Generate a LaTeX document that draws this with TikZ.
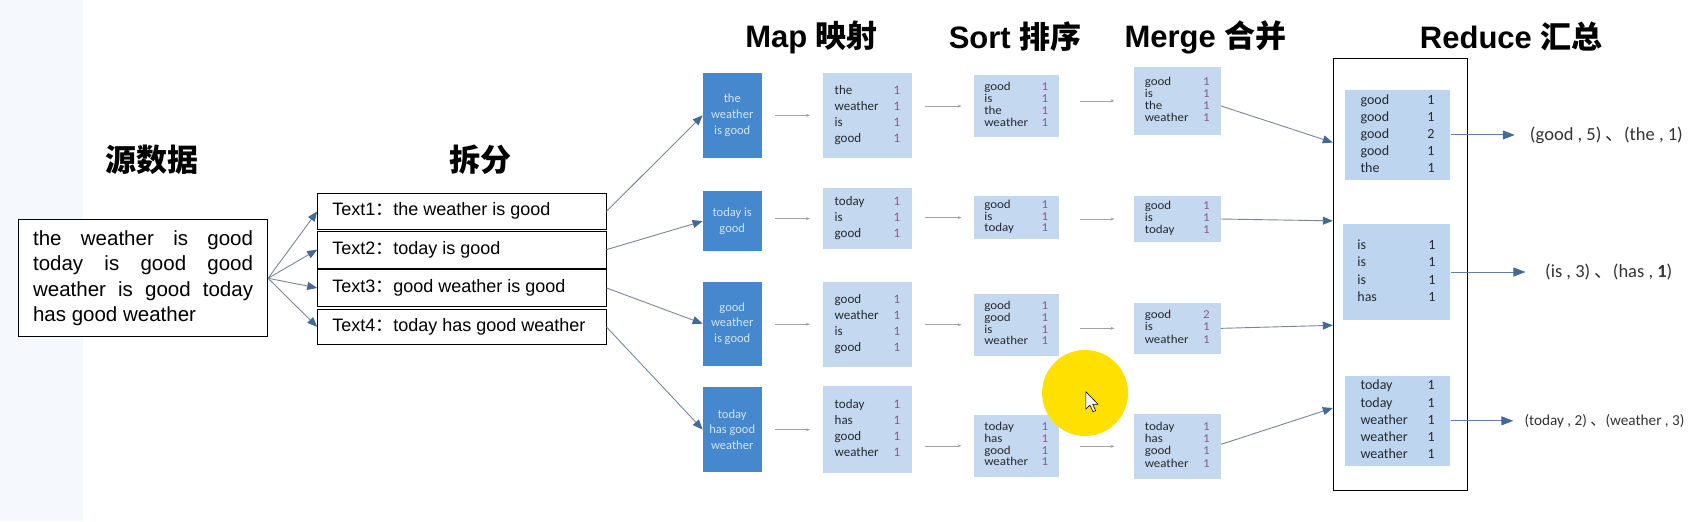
\documentclass[tikz,border=0pt]{standalone}
\usepackage{fontspec}
\usepackage{graphicx}
\setmainfont{Liberation Sans}
\newfontfamily\calib{Carlito}
\newfontfamily\cjk{Noto Sans CJK SC}
\usetikzlibrary{arrows.meta}

\definecolor{darkbox}{HTML}{4588CD}
\definecolor{lightbox}{HTML}{C4D9F0}
\definecolor{redbox}{HTML}{BDD5EF}
\definecolor{darktext}{HTML}{D3E3F3}
\definecolor{numcol}{HTML}{8A5A8E}
\definecolor{wordcol}{HTML}{262A30}
\definecolor{headblue}{HTML}{43689A}
\definecolor{linegray}{HTML}{7A8698}
\definecolor{resline}{HTML}{5F7FA5}
\definecolor{smallgray}{HTML}{A3A3A3}
\definecolor{leftband}{HTML}{F5F9FD}
\definecolor{cursoryellow}{HTML}{FFE000}
\definecolor{restext}{HTML}{333333}

% box by corners (shown units): name, x1, y1, x2, y2, style, content
\newcommand\bx[7]{\node[#6, minimum width={(#4-#2)*1.088pt}, minimum height={(#5-#3)*1.088pt}] (#1) at ({(#2+#4)/2},{(#3+#5)/2}) {#7};}
% word/count table: font size, pitch, column offset, rows
\newcommand\wc[4]{{\calib\fontsize{#1}{#2}\selectfont\begin{tabular}{@{}p{#3}@{}l@{}}#4\end{tabular}}}
% horizontally widened variant
\newcommand\wcs[4]{\scalebox{1.08}[1]{\wc{#1}{#2}{#3}{#4}}}
\newcommand\rowx[2]{#1 & \textcolor{numcol}{#2}\\}
\newcommand\rowk[2]{#1 & #2\\}

\tikzset{
  titlenode/.style={inner sep=0pt, font=\bfseries\fontsize{31}{31}\selectfont},
  plainbox/.style={draw=black, line width=0.9pt, fill=white, inner sep=0pt},
  textbox/.style={plainbox, font=\fontsize{18}{20}\selectfont},
  darkb/.style={fill=darkbox, inner sep=0pt, text=darktext, align=center, font=\calib\fontsize{12.5}{15.7}\selectfont},
  lightb/.style={fill=lightbox, inner sep=0pt, text=wordcol},
  redb/.style={fill=redbox, inner sep=0pt, text=wordcol},
  bigarrow/.style={draw=linegray, line width=0.9pt, -{Triangle[length=10pt,width=8pt,color=headblue]}},
  resarrow/.style={draw=resline, line width=1pt, -{Triangle[length=12pt,width=9pt,color=headblue]}},
  smallarrow/.style={draw=smallgray, line width=0.6pt, -{Stealth[length=4pt,width=3pt]}},
  resnode/.style={inner sep=0pt, anchor=west, text=restext},
}

\begin{document}
\begin{tikzpicture}[x=1.088pt,y=-1.088pt]
\useasboundingbox (0,0) rectangle (1568,479);
\fill[white] (0,0) rectangle (1568,479);
\fill[leftband] (0,0) rectangle (76,479);

% titles
\node[titlenode] (tsrc) at (140,147) {\cjk 源数据};
\node[titlenode] (tsplit) at (442,147) {\cjk 拆分};
\node[titlenode] (tmap) at (746,34) {Map {\cjk 映射}};
\node[titlenode] (tsort) at (933,34) {Sort {\cjk 排序}};
\node[titlenode] (tmerge) at (1108,34) {Merge {\cjk 合并}};
\node[titlenode] (treduce) at (1389,34) {Reduce {\cjk 汇总}};

% source data
\bx{src}{17}{202}{246}{309.5}{plainbox}{{\fontsize{20.5}{25.4}\selectfont\begin{tabular}{@{}l@{}}
\makebox[220pt][s]{the weather is good}\\
\makebox[220pt][s]{today is good good}\\
\makebox[220pt][s]{weather is good today}\\
has good weather
\end{tabular}}}

% split boxes
\bx{t1}{292}{177.7}{557}{210.8}{textbox}{\makebox[259pt][l]{Text1{\cjk ：}the weather is good}}
\bx{t2}{292}{212.3}{557}{246.6}{textbox}{\makebox[259pt][l]{Text2{\cjk ：}today is good}}
\bx{t3}{292}{248}{557}{281.3}{textbox}{\makebox[259pt][l]{Text3{\cjk ：}good weather is good}}
\bx{t4}{292}{284}{557}{317}{textbox}{\makebox[259pt][l]{Text4{\cjk ：}today has good weather}}

% map inputs
\bx{d1}{646}{67}{700}{145}{darkb}{the\\weather\\is good}
\bx{d2}{646}{175.5}{700}{231}{darkb}{today is\\good}
\bx{d3}{646}{259}{700}{336}{darkb}{good\\weather\\is good}
\bx{d4}{646}{355.6}{700}{434}{darkb}{today\\has good\\weather}

% map outputs
\bx{m1}{756.6}{67}{838}{145}{lightb}{\wc{13}{16}{59pt}{\rowx{the}{1}\rowx{weather}{1}\rowx{is}{1}\rowx{good}{1}}}
\bx{m2}{756.6}{173}{838}{229}{lightb}{\wc{13}{16}{59pt}{\rowx{today}{1}\rowx{is}{1}\rowx{good}{1}}}
\bx{m3}{756.6}{259}{838}{337}{lightb}{\wc{13}{16}{59pt}{\rowx{good}{1}\rowx{weather}{1}\rowx{is}{1}\rowx{good}{1}}}
\bx{m4}{756.6}{355}{838}{435}{lightb}{\wc{13}{16}{59pt}{\rowx{today}{1}\rowx{has}{1}\rowx{good}{1}\rowx{weather}{1}}}

% sort
\bx{s1}{895}{69}{973}{126}{lightb}{\wcs{12}{11.5}{53pt}{\rowx{good}{1}\rowx{is}{1}\rowx{the}{1}\rowx{weather}{1}}}
\bx{s2}{895}{180}{973}{220}{lightb}{\wcs{12}{11.5}{53pt}{\rowx{good}{1}\rowx{is}{1}\rowx{today}{1}}}
\bx{s3}{895}{270}{973}{327}{lightb}{\wcs{12}{11.5}{53pt}{\rowx{good}{1}\rowx{good}{1}\rowx{is}{1}\rowx{weather}{1}}}
\bx{s4}{895}{381.5}{973}{438}{lightb}{\wcs{12}{11.5}{53pt}{\rowx{today}{1}\rowx{has}{1}\rowx{good}{1}\rowx{weather}{1}}}

% merge
\bx{g1}{1042}{61.5}{1122}{124}{lightb}{\wcs{12}{12.2}{54pt}{\rowx{good}{1}\rowx{is}{1}\rowx{the}{1}\rowx{weather}{1}}}
\bx{g2}{1042}{180}{1122}{222.6}{lightb}{\wcs{12}{12.2}{54pt}{\rowx{good}{1}\rowx{is}{1}\rowx{today}{1}}}
\bx{g3}{1042}{278.6}{1122}{325}{lightb}{\wcs{12}{12.2}{54pt}{\rowx{good}{2}\rowx{is}{1}\rowx{weather}{1}}}
\bx{g4}{1042}{380.5}{1122}{440}{lightb}{\wcs{12}{12.2}{54pt}{\rowx{today}{1}\rowx{has}{1}\rowx{good}{1}\rowx{weather}{1}}}

% reduce
\bx{red}{1226}{54}{1349}{451}{draw=black, line width=0.9pt, inner sep=0pt}{}
\bx{r1}{1236}{82.7}{1333}{165.4}{redb}{\wc{14}{17.2}{67pt}{\rowk{good}{1}\rowk{good}{1}\rowk{good}{2}\rowk{good}{1}\rowk{the}{1}}}
\bx{r2}{1234}{206}{1333}{294}{redb}{\wc{14}{17.2}{71pt}{\rowk{is}{1}\rowk{is}{1}\rowk{is}{1}\rowk{has}{1}}}
\bx{r3}{1236}{345.6}{1333}{428}{redb}{\wc{14}{17.2}{67pt}{\rowk{today}{1}\rowk{today}{1}\rowk{weather}{1}\rowk{weather}{1}\rowk{weather}{1}}}

% results
\node[resnode, font=\calib\fontsize{18.5}{21}\selectfont] (res1) at (1406,124) {(good , 5) {\cjk 、}(the , 1)};
\node[resnode, font=\calib\fontsize{18.5}{21}\selectfont] (res2) at (1420,250) {(is , 3) {\cjk 、}(has , \textbf{1})};
\node[resnode, font=\calib\fontsize{15.2}{18}\selectfont] (res3) at (1401,387) {(today , 2) {\cjk 、}(weather , 3)};

% connectors: source -> split
\foreach \t in {t1,t2,t3,t4} \draw[bigarrow] (src.east) -- (\t.west);
% split -> map inputs
\draw[bigarrow] (t1.east) -- (d1.west);
\draw[bigarrow] (t2.east) -- (d2.west);
\draw[bigarrow] (t3.east) -- (d3.west);
\draw[bigarrow] (t4.east) -- (d4.west);
% small gray arrows
\foreach \a/\b in {d1/m1,d2/m2,d3/m3,d4/m4}
  \draw[smallarrow, shorten <=13pt, shorten >=13pt] (\a.east |- \b.west) -- (\b.west);
\foreach \a/\b in {m1/s1,m2/s2,m3/s3,m4/s4}
  \draw[smallarrow, shorten <=13pt, shorten >=12pt] (\a.east |- \b.west) -- (\b.west);
\foreach \a/\b in {s1/g1,s2/g2,s3/g3,s4/g4}
  \draw[smallarrow, shorten <=21pt, shorten >=19pt] (\a.east |- \b.west) -- (\b.west);

% merge -> reduce
\coordinate (e1) at (1225,131);
\coordinate (e2) at (1225,203);
\coordinate (e3) at (1225,299);
\coordinate (e4) at (1225,375);
\draw[bigarrow] ([yshift=-5pt]g1.east) -- (e1);
\draw[bigarrow] (g2.east) -- (e2);
\draw[bigarrow] (g3.east) -- (e3);
\draw[bigarrow] ([yshift=2pt]g4.east) -- (e4);

% reduce -> results
\draw[resarrow, shorten >=15pt] (r1.east) -- (r1.east -| res1.west);
\draw[resarrow, shorten >=19.5pt] (r2.east) -- (r2.east -| res2.west);
\draw[resarrow, shorten >=11pt] (r3.east) -- (r3.east -| res3.west);

% cursor highlight
\fill[cursoryellow] (997.3,361.2) circle [radius=43pt];
\draw[black, fill=white, line width=0.6pt, line join=round, shift={(998,360)}]
  (0,0) -- (0,16) -- (3.8,12.4) -- (6.6,18.4) -- (9,17.4) -- (6.3,11.6) -- (11.2,11.6) -- cycle;
\end{tikzpicture}
\end{document}
